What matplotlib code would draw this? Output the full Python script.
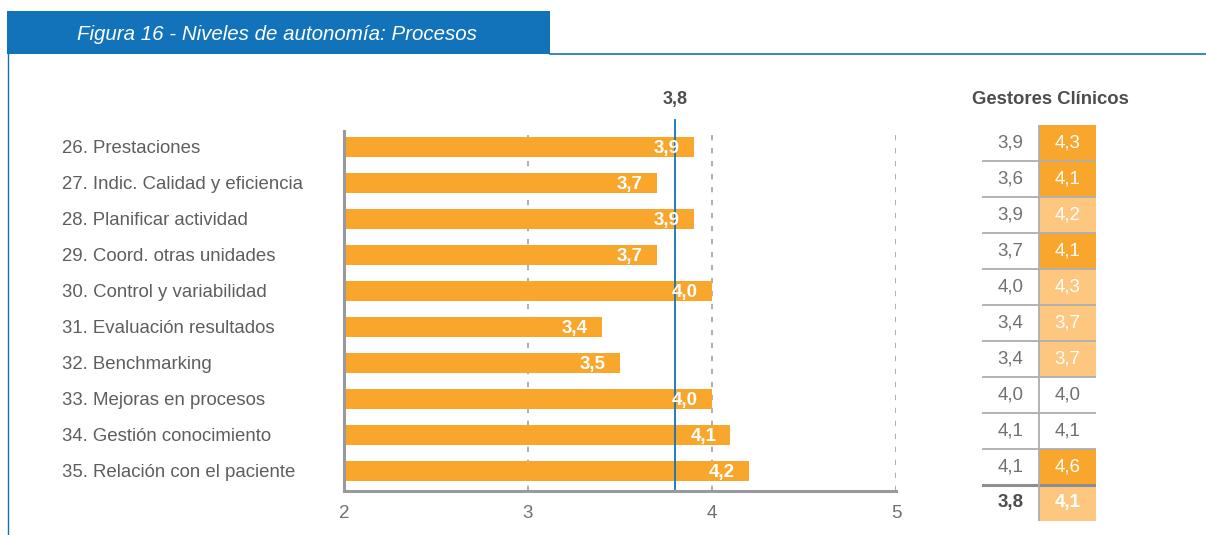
import numpy as np
import matplotlib
matplotlib.use('Agg')
from matplotlib import pyplot as plt
from matplotlib.patches import Rectangle

plt.rcParams['font.family'] = ['Liberation Sans', 'DejaVu Sans']

# datos
categorias = ['26. Prestaciones', '27. Indic. Calidad y eficiencia', '28. Planificar actividad',
              '29. Coord. otras unidades', '30. Control y variabilidad', '31. Evaluación resultados',
              '32. Benchmarking', '33. Mejoras en procesos', '34. Gestión conocimiento',
              '35. Relación con el paciente']
valores = [3.9, 3.7, 3.9, 3.7, 4.0, 3.4, 3.5, 4.0, 4.1, 4.2]
media = 3.8
ticks_x = [2, 3, 4, 5]

# tabla gestores clinicos
col_a = [3.9, 3.6, 3.9, 3.7, 4.0, 3.4, 3.4, 4.0, 4.1, 4.1]
col_b = [4.3, 4.1, 4.2, 4.1, 4.3, 3.7, 3.7, 4.0, 4.1, 4.6]
nivel_b = [2, 2, 1, 2, 1, 1, 1, 0, 0, 2]   # 0 blanco, 1 claro, 2 oscuro
total_a = 3.8
total_b = 4.1
nivel_total = 1

AZUL = '#1273bb'
NARANJA = '#f9a62c'
CLARO = '#fdc77f'
GRIS = '#9a9a9e'
TEXTO = '#666666'

def fmt(v):
    return ('%.1f' % v).replace('.', ',')

W, H = 1206, 535
fig = plt.figure(figsize=(W / 100, H / 100), dpi=100)

def px_axes(x0, y0, x1, y1):
    return fig.add_axes([x0 / W, 1 - y1 / H, (x1 - x0) / W, (y1 - y0) / H])

# marco y cabecera
fig.add_artist(Rectangle((7 / W, 1 - 54 / H), 543 / W, 43 / H, transform=fig.transFigure,
                         color=AZUL, lw=0))
fig.add_artist(plt.Line2D([550 / W, 1], [1 - 54 / H, 1 - 54 / H], transform=fig.transFigure,
                          color=AZUL, lw=1.2))
fig.add_artist(plt.Line2D([7.5 / W, 7.5 / W], [0, 1 - 54 / H], transform=fig.transFigure,
                          color=AZUL, lw=1.0))
fig.text(77 / W, 1 - 34 / H, 'Figura 16 - Niveles de autonomía: Procesos', color='white',
         fontsize=14.8, style='italic', va='center', ha='left')

# barras
ax = px_axes(344, 131, 896, 491)
y = np.arange(len(categorias))
ax.barh(y, np.array(valores) - 2, left=2, height=0.53, color=NARANJA, zorder=2)
ax.set_xlim(2, 5)
ax.set_ylim(len(categorias) - 0.444, -0.444)
for xv in ticks_x[1:]:
    ax.axvline(xv, color=GRIS, lw=1.1, dashes=(3.5, 5), zorder=1)
for i, v in enumerate(valores):
    ax.annotate(fmt(v), (v, i), xytext=(-10, -1), textcoords='offset points', ha='right',
                va='center', color='white', fontsize=13.5, fontweight='bold', zorder=4)
ax.plot([media, media], [len(categorias) - 0.5, -0.75], color=AZUL, lw=1.3, zorder=3,
        clip_on=False)
ax.text(media, -1.33, fmt(media), ha='center', va='center', fontsize=13, fontweight='bold',
        color='#4d4d4d')

for s in ['top', 'right']:
    ax.spines[s].set_visible(False)
ax.spines['left'].set_color(GRIS)
ax.spines['left'].set_linewidth(2.2)
ax.spines['bottom'].set_color(GRIS)
ax.spines['bottom'].set_linewidth(2.2)
ax.set_xticks(ticks_x)
ax.set_xticklabels([str(t) for t in ticks_x], color='#707070', fontsize=13.5)
ax.tick_params(axis='x', length=0, pad=10)
ax.set_yticks(y)
ax.set_yticklabels([])
ax.tick_params(axis='y', length=0)
for i, c in enumerate(categorias):
    ax.annotate(c, (0, i), xycoords=('figure pixels', 'data'), xytext=(62, -2),
                textcoords='offset pixels', ha='left', va='center', color='#5e5e5e',
                fontsize=13.4)

# tabla
tb = px_axes(982, 125, 1096, 521)
filas = len(col_a) + 1
tb.set_xlim(0, 2)
tb.set_ylim(filas, 0)
tb.axis('off')
colores = ['white', CLARO, NARANJA]
niveles = nivel_b + [nivel_total]
vals_a = col_a + [total_a]
vals_b = col_b + [total_b]
tb.barh(np.arange(filas) + 0.5, 1, left=1, height=1,
        color=[colores[n] for n in niveles], lw=0, zorder=1)
for i in range(filas):
    negrita = 'bold' if i == filas - 1 else 'normal'
    tb.text(0.5, i + 0.5, fmt(vals_a[i]), ha='center', va='center', fontsize=13.5,
            color='#4d4d4d' if negrita == 'bold' else '#707070', fontweight=negrita)
    tb.text(1.5, i + 0.5, fmt(vals_b[i]), ha='center', va='center', fontsize=13.5,
            color='white' if niveles[i] else '#707070', fontweight=negrita)
for i in range(1, filas - 1):
    tb.plot([0, 2], [i, i], color='#aeaeb2', lw=1.3, zorder=2)
tb.plot([0, 2], [filas - 1, filas - 1], color='#8e8e92', lw=2.2, zorder=2)
tb.plot([1, 1], [0, filas], color='#aeaeb2', lw=1.3, zorder=2)
fig.text(1050 / W, 1 - 99 / H, 'Gestores Clínicos', ha='center', va='center', fontsize=13.3,
         fontweight='bold', color='#4d4d4d')

fig.savefig('out.png', dpi=100)
